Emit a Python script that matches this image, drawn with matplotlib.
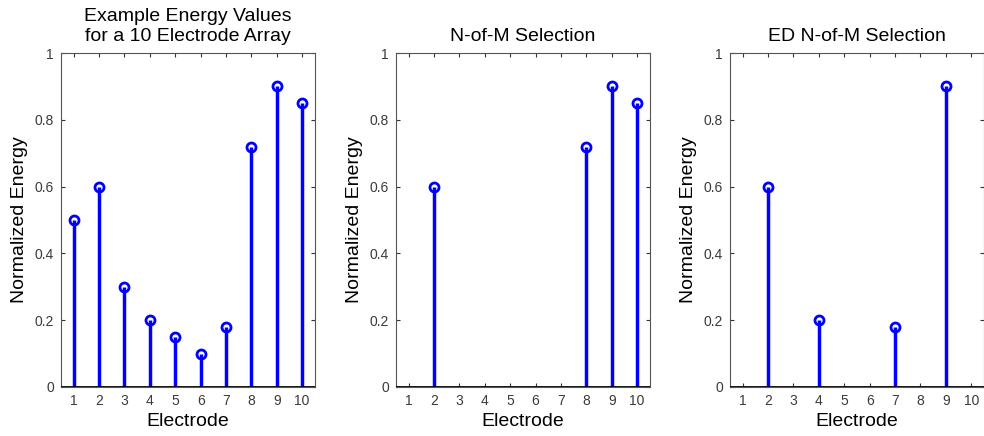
import matplotlib.pyplot as plt

plt.rcParams['font.family'] = ['Liberation Sans', 'DejaVu Sans']

electrodes = [1, 2, 3, 4, 5, 6, 7, 8, 9, 10]
energy_all = [0.5, 0.6, 0.3, 0.2, 0.15, 0.1, 0.18, 0.72, 0.9, 0.85]
nofm_idx = [2, 8, 9, 10]
nofm_val = [0.6, 0.72, 0.9, 0.85]
ed_idx = [2, 4, 7, 9]
ed_val = [0.6, 0.2, 0.18, 0.9]

titles = ["Example Energy Values\nfor a 10 Electrode Array",
          "N-of-M Selection", "ED N-of-M Selection"]
yticks = [0, 0.2, 0.4, 0.6, 0.8, 1]
ytick_labels = ["0", "0.2", "0.4", "0.6", "0.8", "1"]

fig = plt.figure(figsize=(9.84, 4.36), dpi=100)
lefts = [0.062, 0.4024, 0.7419]
data = [(electrodes, energy_all), (nofm_idx, nofm_val), (ed_idx, ed_val)]

for left, (xs, ys), title in zip(lefts, data, titles):
    ax = fig.add_axes([left, 0.1124, 0.258, 0.766])
    ax.vlines(xs, 0, ys, color='#0000ff', lw=2.5, zorder=2)
    ax.plot(xs, ys, 'o', mfc='none', mec='#0000ff', mew=2, ms=6.5, zorder=3)
    ax.axhline(0, color='black', lw=2, zorder=4)
    ax.set_xlim(0.5, 10.5)
    ax.set_ylim(0, 1)
    ax.set_xticks(electrodes)
    ax.set_yticks(yticks)
    ax.set_yticklabels(ytick_labels)
    ax.tick_params(direction='in', top=True, right=True, length=3,
                   labelsize=10, labelcolor='#3a3a3a', color='#333333',
                   pad=5)
    for s in ax.spines.values():
        s.set_color('#555555')
    ax.set_title(title, fontsize=14, pad=9)
    ax.set_xlabel("Electrode", fontsize=14, labelpad=4)
    ax.set_ylabel("Normalized Energy", fontsize=14, labelpad=5)

fig.savefig("out.png", dpi=100)
